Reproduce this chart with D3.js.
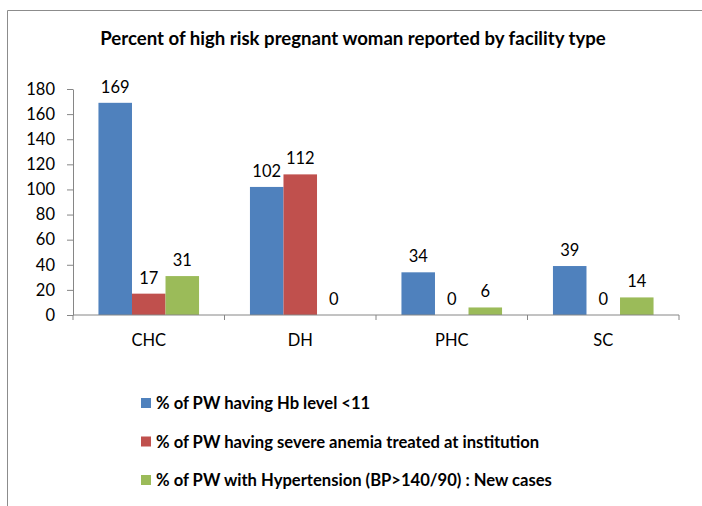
<!DOCTYPE html>
<html>
<head>
<meta charset="utf-8">
<script src="https://cdn.jsdelivr.net/npm/d3@7"></script>
<style>
  body { margin: 0; background: #fff; }
  svg { display: block; font-family: Lato, "Open Sans", sans-serif; }
</style>
</head>
<body>
<svg id="chart" width="702" height="506"></svg>
<script>
// data
const categories = ['CHC', 'DH', 'PHC', 'SC']
const seriesNames = [
  '% of PW having Hb level <11',
  '% of PW having severe anemia treated at institution',
  '% of PW with Hypertension (BP>140/90) : New cases'
]
const hbValues = [169, 102, 34, 39]
const anemiaValues = [17, 112, 0, 0]
const hyperValues = [31, 0, 6, 14]
const yTicks = [0, 20, 40, 60, 80, 100, 120, 140, 160, 180]
const colors = ['#4f81bd', '#c0504d', '#9bbb59']

const svg = d3.select('#chart')
const margin = { left: 73, right: 23, top: 89, bottom: 191 }
const width = 702 - margin.left - margin.right
const height = 506 - margin.top - margin.bottom

// outer frame (cut off at right and bottom like the source screenshot)
svg.append('path')
  .attr('d', 'M7.5,506 V10.5 H702')
  .attr('fill', 'none')
  .attr('stroke', '#8c8c8c')
  .attr('stroke-width', 1)

svg.append('text')
  .text('Percent of high risk pregnant woman reported by facility type')
  .attr('x', 353)
  .attr('y', 45)
  .attr('text-anchor', 'middle')
  .attr('font-weight', 'bold')
  .attr('font-size', 18.6)

const g = svg.append('g')
  .attr('transform', 'translate(' + margin.left + ',' + margin.top + ')')

const x = d3.scaleBand().domain(categories).range([0, width]).paddingInner(0).paddingOuter(0)
const inner = d3.scaleBand().domain([0, 1, 2]).range([x.bandwidth() * 0.168, x.bandwidth() * 0.832])
const y = d3.scaleLinear().domain([0, 180]).range([height, 0])

const table = categories.map((c, i) => ({
  cat: c,
  vals: [hbValues[i], anemiaValues[i], hyperValues[i]]
}))

const groups = g.selectAll('.grp')
  .data(table)
  .enter()
  .append('g')
  .attr('class', 'grp')
  .attr('transform', d => 'translate(' + x(d.cat) + ',0)')

groups.selectAll('rect')
  .data(d => d.vals)
  .enter()
  .append('rect')
  .attr('x', (d, i) => inner(i))
  .attr('width', inner.bandwidth())
  .attr('y', d => y(d))
  .attr('height', d => height - y(d))
  .attr('fill', (d, i) => colors[i])

groups.selectAll('.val')
  .data(d => d.vals)
  .enter()
  .append('text')
  .attr('class', 'val')
  .attr('x', (d, i) => inner(i) + inner.bandwidth() / 2)
  .attr('y', d => y(d) - 10)
  .attr('text-anchor', 'middle')
  .attr('font-size', 16.5)
  .attr('fill', '#000')
  .text(d => d)

// y axis
const yAxis = g.append('g')
  .call(d3.axisLeft(y).tickValues(yTicks).tickSize(6).tickSizeOuter(0).tickPadding(12))
yAxis.select('.domain').attr('stroke', '#868686')
yAxis.selectAll('.tick line').attr('stroke', '#868686')
yAxis.selectAll('.tick text').attr('font-size', 16.5).attr('fill', '#000')
  .attr('font-family', 'Lato, sans-serif')

// x axis with boundary ticks
const xAxis = g.append('g').attr('transform', 'translate(0,' + height + ')')
xAxis.append('line')
  .attr('x1', 0).attr('x2', width)
  .attr('stroke', '#868686')
const bounds = categories.map(c => x(c)).concat([width])
xAxis.selectAll('.bt')
  .data(bounds)
  .enter()
  .append('line')
  .attr('x1', d => d).attr('x2', d => d)
  .attr('y1', 0).attr('y2', 5)
  .attr('stroke', '#868686')
xAxis.selectAll('.cl')
  .data(categories)
  .enter()
  .append('text')
  .attr('x', d => x(d) + x.bandwidth() / 2)
  .attr('y', 31)
  .attr('text-anchor', 'middle')
  .attr('font-size', 16.5)
  .text(d => d)

// legend
const legend = svg.append('g').attr('transform', 'translate(141,403)')
const rows = legend.selectAll('.lg')
  .data(seriesNames)
  .enter()
  .append('g')
  .attr('transform', (d, i) => 'translate(0,' + i * 38.5 + ')')
rows.append('rect')
  .attr('x', 0).attr('y', -5)
  .attr('width', 10).attr('height', 10)
  .attr('fill', (d, i) => colors[i])
rows.append('text')
  .attr('x', 15)
  .attr('y', 6)
  .attr('font-size', 16.6)
  .attr('font-weight', 'bold')
  .text(d => d)
</script>
</body>
</html>
